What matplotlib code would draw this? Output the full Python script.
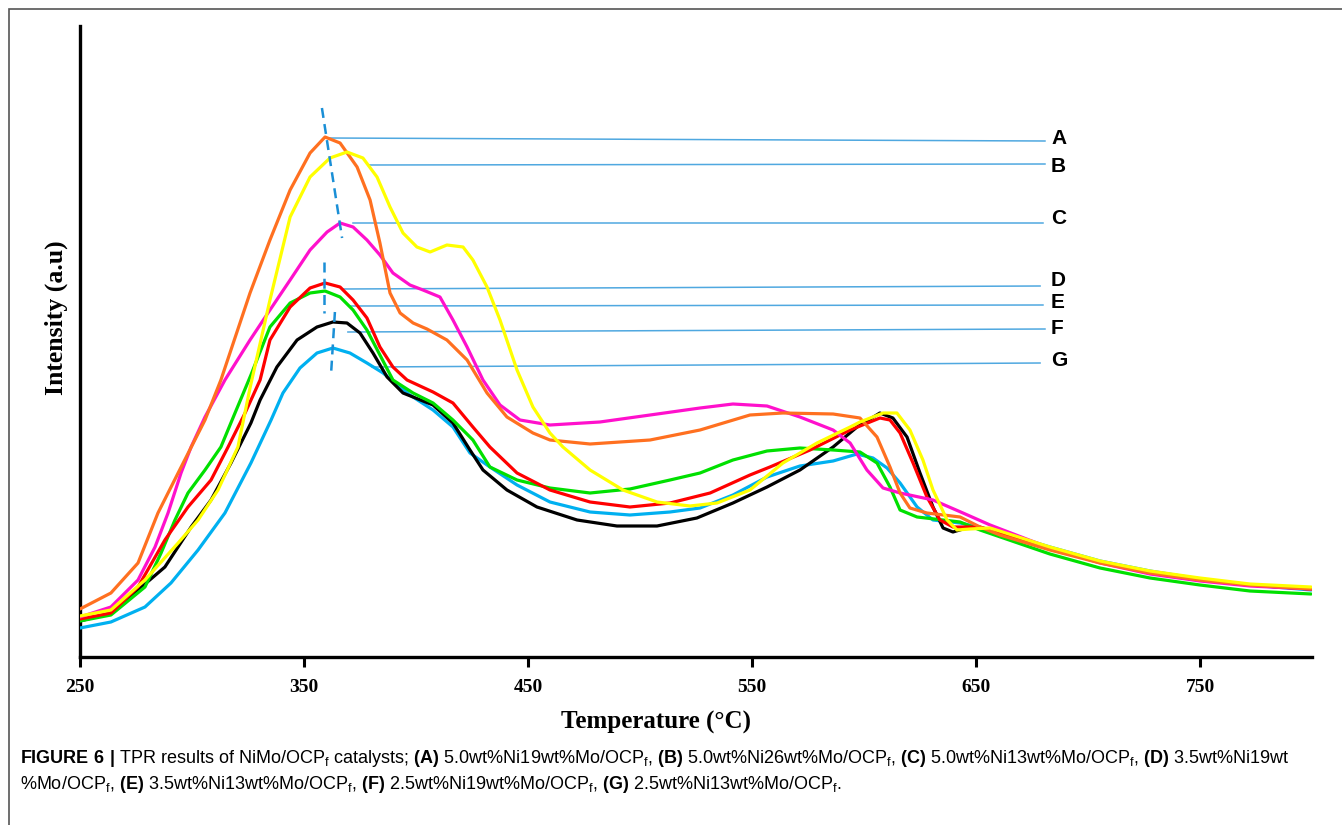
import matplotlib
matplotlib.use("Agg")
import matplotlib.pyplot as plt
from matplotlib.patches import Rectangle

plt.rcParams["mathtext.fontset"] = "custom"
plt.rcParams["mathtext.rm"] = "Liberation Sans"
plt.rcParams["mathtext.bf"] = "Liberation Sans:bold"

# -------------------------------
# DATA
# -------------------------------

# (A) 5.0wt%Ni19wt%Mo/OCPf - orange
temp_a = [250, 263.8, 275.9, 284.8, 293.8, 305.8, 312.9, 325.9, 334.8, 343.8, 352.7, 359.4,
          366.1, 373.7, 379.5, 383.9, 388.4, 392.9, 398.7, 404.9, 413.8, 422.8, 431.7, 440.6,
          452.2, 459.8, 477.7, 504.5, 526.8, 549.1, 563.8, 586.2, 598.2, 605.8, 611.6, 616.1,
          620.5, 628.1, 642.9, 651.8, 660.7, 683.0, 705.4, 727.7, 750.0, 772.3, 799.6]
int_a = [48, 64, 94, 144, 184, 237, 277, 364, 417, 467, 504, 520,
         514, 490, 457, 414, 364, 344, 334, 328, 317, 297, 264, 240,
         224, 217, 213, 217, 227, 242, 244, 243, 239, 220, 190, 164,
         149, 144, 140, 130, 122, 107, 94, 84, 77, 72, 68]

# (B) 5.0wt%Ni26wt%Mo/OCPf - yellow
temp_b = [250, 263.8, 279.0, 293.8, 302.7, 311.6, 320.5, 325.9, 334.8, 343.8, 352.7, 361.6,
          369.2, 376.3, 382.6, 388.4, 394.2, 400.4, 406.3, 413.8, 421.0, 425.4, 431.7, 437.5,
          445.1, 452.2, 459.8, 465.6, 477.7, 492.4, 507.6, 522.3, 534.4, 549.1, 563.8, 579.0,
          593.8, 598.2, 608.5, 614.7, 620.5, 626.3, 630.8, 637.1, 641.5, 647.3, 656.3, 683.0,
          705.4, 727.7, 750.0, 772.3, 799.6]
int_b = [41, 47, 77, 114, 137, 167, 210, 269, 357, 440, 480, 499,
         505, 499, 480, 450, 424, 410, 405, 412, 410, 397, 370, 337,
         287, 250, 224, 210, 187, 167, 155, 151, 154, 167, 194, 214,
         230, 235, 244, 244, 227, 197, 167, 137, 127, 128, 129, 110,
         96, 86, 79, 73, 70]

# (C) 5.0wt%Ni13wt%Mo/OCPf - magenta
temp_c = [250, 263.8, 275.9, 283.5, 289.3, 295.1, 299.6, 305.8, 314.7, 325.9, 334.8, 343.8,
          352.7, 360.3, 366.1, 371.9, 378.1, 383.9, 389.7, 397.3, 403.1, 410.7, 416.5, 422.8,
          429.9, 437.5, 446.4, 459.8, 482.1, 504.5, 526.8, 541.5, 556.7, 571.4, 586.2, 593.8,
          601.3, 608.5, 616.1, 630.8, 644.2, 656.3, 683.0, 705.4, 727.7, 750.0, 772.3, 799.6]
int_c = [40, 50, 77, 110, 144, 184, 210, 240, 277, 317, 347, 377,
         407, 425, 434, 430, 417, 402, 384, 372, 367, 360, 337, 310,
         277, 252, 237, 232, 235, 242, 249, 253, 251, 240, 227, 214,
         187, 169, 164, 157, 144, 132, 109, 94, 83, 76, 71, 68]

# (D) 3.5wt%Ni19wt%Mo/OCPf - red
temp_d = [250, 263.8, 275.9, 287.9, 298.2, 308.5, 316.1, 323.7, 330.4, 334.8, 343.8, 352.7,
          359.4, 366.1, 371.9, 378.1, 383.9, 389.7, 396.0, 407.6, 416.5, 425.4, 433.0, 445.1,
          459.8, 477.7, 495.5, 513.4, 531.3, 549.1, 558.0, 575.9, 593.8, 607.1, 611.6, 616.1,
          621.9, 628.1, 633.9, 639.7, 651.8, 683.0, 705.4, 727.7, 750.0, 772.3, 799.6]
int_d = [38, 44, 70, 117, 150, 177, 210, 244, 277, 317, 350, 369,
         374, 370, 357, 339, 310, 290, 277, 265, 254, 230, 210, 184,
         167, 155, 150, 154, 164, 182, 190, 207, 227, 239, 237, 224,
         194, 160, 137, 130, 130, 109, 95, 85, 78, 72, 68]

# (E) 3.5wt%Ni13wt%Mo/OCPf - green
temp_e = [250, 263.8, 279.0, 286.2, 292.4, 298.2, 305.8, 312.9, 319.2, 326.3, 334.8, 343.8,
          352.7, 359.4, 366.1, 371.9, 378.1, 383.9, 389.7, 398.7, 407.6, 416.5, 425.4, 433.0,
          445.1, 459.8, 477.7, 495.5, 513.4, 526.8, 541.5, 556.7, 571.4, 586.2, 598.2, 605.8,
          611.6, 616.1, 623.7, 642.9, 651.8, 683.0, 705.4, 727.7, 750.0, 772.3, 799.6]
int_e = [36, 42, 70, 104, 137, 164, 187, 210, 244, 282, 330, 354,
         364, 366, 360, 347, 327, 302, 277, 264, 254, 237, 217, 190,
         177, 169, 164, 168, 177, 184, 197, 206, 209, 207, 205, 194,
         170, 147, 140, 135, 127, 103, 89, 79, 72, 66, 63]

# (F) 2.5wt%Ni19wt%Mo/OCPf - black
temp_f = [250, 263.8, 275.9, 287.9, 299.6, 308.5, 317.4, 326.3, 330.4, 337.9, 346.9, 355.8,
          362.9, 369.2, 375.0, 380.8, 387.1, 394.2, 407.6, 416.5, 424.1, 429.9, 440.6, 454.0,
          471.9, 489.7, 507.6, 525.4, 541.5, 556.7, 571.4, 586.2, 596.9, 607.1, 612.9, 619.2,
          625.0, 630.8, 635.3, 639.7, 647.3, 660.7, 683.0, 705.4, 727.7, 750.0, 772.3, 799.6]
int_f = [36, 44, 67, 90, 130, 157, 194, 234, 257, 290, 317, 330,
         335, 334, 324, 304, 280, 264, 252, 234, 207, 187, 167, 150,
         137, 131, 131, 139, 154, 170, 187, 210, 230, 244, 239, 220,
         184, 150, 129, 125, 130, 124, 109, 95, 85, 78, 72, 68]

# (G) 2.5wt%Ni13wt%Mo/OCPf - light blue
temp_g = [250, 263.8, 279.0, 290.6, 302.7, 314.7, 326.3, 335.3, 340.6, 348.2, 355.8, 362.9,
          370.5, 378.1, 385.3, 392.9, 397.3, 407.6, 416.5, 424.1, 433.0, 445.1, 459.8, 477.7,
          495.5, 513.4, 526.8, 541.5, 556.7, 571.4, 586.2, 596.9, 604.0, 610.3, 616.1, 623.7,
          630.8, 642.9, 660.7, 683.0, 705.4, 727.7, 750.0, 772.3, 799.6]
int_g = [29, 35, 50, 74, 107, 144, 194, 237, 264, 289, 304, 309,
         304, 294, 284, 270, 262, 247, 230, 204, 190, 172, 155, 145,
         142, 145, 149, 162, 180, 191, 196, 203, 199, 189, 174, 150,
         137, 134, 125, 110, 96, 86, 78, 72, 67]

# peak marker lines (start at the peak, end at the letter)
labels = ["A", "B", "C", "D", "E", "F", "G"]
mark_t0 = [360.3, 378.6, 371.9, 367.4, 370.5, 369.6, 380.4]
mark_i0 = [519, 492, 434, 368, 351, 325, 290]
mark_t1 = [680.8, 680.8, 679.9, 678.6, 679.9, 680.8, 678.6]
mark_i1 = [516, 493, 434, 371, 352, 328, 294]
label_i = [519, 491, 438, 376, 355, 328, 296]

# dashed guides through the peak maxima
dash_t = [[358.0, 367.0], [358.9, 358.9], [363.8, 362.1]]
dash_i = [[549, 419], [395, 344], [345, 284]]

xticks = [250, 350, 450, 550, 650, 750]

# -------------------------------
# FIGURE
# -------------------------------

fig = plt.figure(figsize=(13.42, 8.25), dpi=100)
ax = fig.add_axes([80 / 1342, 168 / 825, 1232 / 1342, 631 / 825])

series = [
    (temp_g, int_g, "#00B0F0"),
    (temp_f, int_f, "#000000"),
    (temp_e, int_e, "#00E000"),
    (temp_d, int_d, "#FF0000"),
    (temp_c, int_c, "#FF10CC"),
    (temp_a, int_a, "#FF7020"),
    (temp_b, int_b, "#FFFF00"),
]
for t, i, c in series:
    ax.plot(t, i, color=c, lw=2.3, solid_joinstyle="round", solid_capstyle="round", zorder=3)

for k in range(len(labels)):
    ax.plot([mark_t0[k], mark_t1[k]], [mark_i0[k], mark_i1[k]], color="#4FA8E0", lw=1.1, zorder=2)
    ax.text(683.5, label_i[k], labels[k], fontsize=15, fontweight="bold",
            family="Liberation Sans", ha="left", va="center")

for t, i in zip(dash_t, dash_i):
    ax.plot(t, i, color="#1A8FD6", lw=1.8, dashes=(4, 2.5), zorder=4)

ax.set_xlim(250, 800)
ax.set_ylim(0, 631)
ax.set_xticks(xticks)
ax.set_xticklabels([str(v) for v in xticks], fontsize=14, fontweight="bold", family="Liberation Serif")
ax.set_yticks([])
ax.tick_params(axis="x", direction="out", length=7, width=2.2, pad=9)

for s in ["top", "right"]:
    ax.spines[s].set_visible(False)
for s in ["left", "bottom"]:
    ax.spines[s].set_linewidth(2.4)

ax.set_xlabel("Temperature (°C)", fontsize=18, fontweight="bold", family="Liberation Serif")
ax.xaxis.set_label_coords(0.4675, -0.085)
ax.set_ylabel("Intensity (a.u)", fontsize=18.5, fontweight="bold", family="Liberation Serif")
ax.yaxis.set_label_coords(-0.01, 0.537)

# outer frame of the figure panel
fig.add_artist(Rectangle((9 / 1342, -0.1), 1.2, 1.1 - 9 / 825, transform=fig.transFigure,
                         fill=False, ec="#555555", lw=1.2))

# -------------------------------
# CAPTION
# -------------------------------

line1 = (r"$\mathbf{FIGURE\ 6\ |}$ TPR results of NiMo/OCP$_\mathrm{f}$ catalysts; "
         r"$\mathbf{(A)}$ 5.0wt%Ni19wt%Mo/OCP$_\mathrm{f}$, $\mathbf{(B)}$ 5.0wt%Ni26wt%Mo/OCP$_\mathrm{f}$, "
         r"$\mathbf{(C)}$ 5.0wt%Ni13wt%Mo/OCP$_\mathrm{f}$, $\mathbf{(D)}$ 3.5wt%Ni19wt")
line2 = (r"%Mo/OCP$_\mathrm{f}$, $\mathbf{(E)}$ 3.5wt%Ni13wt%Mo/OCP$_\mathrm{f}$, "
         r"$\mathbf{(F)}$ 2.5wt%Ni19wt%Mo/OCP$_\mathrm{f}$, $\mathbf{(G)}$ 2.5wt%Ni13wt%Mo/OCP$_\mathrm{f}$.")
fig.text(20 / 1342, (825 - 763) / 825, line1, fontsize=13, family="Liberation Sans", va="baseline")
fig.text(20 / 1342, (825 - 789) / 825, line2, fontsize=13, family="Liberation Sans", va="baseline")

fig.savefig("out.png", dpi=100)
plt.close(fig)
